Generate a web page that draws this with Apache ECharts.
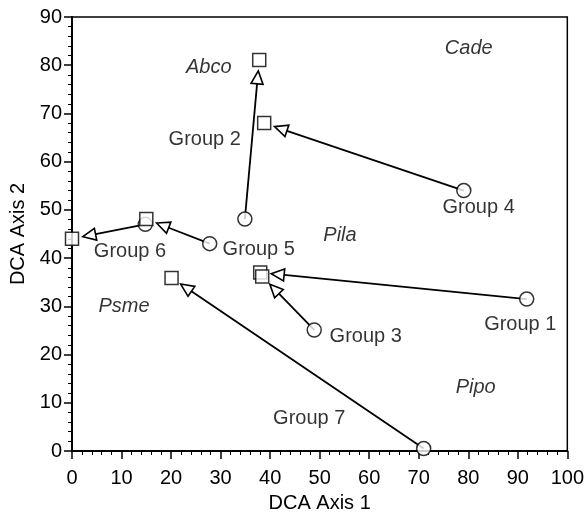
<!DOCTYPE html>
<html>
<head>
<meta charset="utf-8">
<script src="https://cdn.jsdelivr.net/npm/echarts@6/dist/echarts.min.js"></script>
<style>
  html, body { margin: 0; padding: 0; background: #fff; }
  #main { width: 587px; height: 518px; }
</style>
</head>
<body>
<div id="main"></div>
<script>
// group trajectories: circle = start, square = end
const groups = ['Group 1', 'Group 2', 'Group 3', 'Group 4', 'Group 5', 'Group 6', 'Group 7']
const startX = [91.8, 34.9, 48.9, 79.1, 27.8, 14.8, 71.0]
const startY = [31.5, 48.1, 25.1, 54.0, 43.0, 47.0, 0.5]
const endX = [38.0, 37.8, 38.4, 38.8, 15.0, 0.0, 20.1]
const endY = [37.0, 81.1, 36.2, 68.0, 48.1, 44.0, 35.9]

// where each group name sits
const groupLabelX = [90.5, 26.8, 59.3, 82.1, 37.7, 11.7, 47.9]
const groupLabelY = [26.2, 64.6, 23.8, 50.6, 41.8, 41.4, 6.8]

// species scores
const species = ['Abco', 'Cade', 'Pila', 'Psme', 'Pipo']
const speciesX = [27.6, 80.1, 54.1, 10.5, 81.5]
const speciesY = [79.6, 83.5, 44.7, 30.0, 13.2]

const xTicks = [0, 100, 10]
const yTicks = [0, 90, 10]

const font = 'Liberation Sans'
const fontSize = 20
const chart = echarts.init(document.getElementById('main'))

const arrowData = groups.map((g, i) => [startX[i], startY[i], endX[i], endY[i]])

/** arrow from circle toward square, open head */
function renderArrow(params, api) {
  const s = api.coord([api.value(0), api.value(1)])
  const e = api.coord([api.value(2), api.value(3)])
  const dx = e[0] - s[0]
  const dy = e[1] - s[1]
  const len = Math.sqrt(dx * dx + dy * dy)
  const ux = dx / len
  const uy = dy / len
  const gap = 11
  const headLen = 13
  const half = 6
  const tip = [e[0] - ux * gap, e[1] - uy * gap]
  const base = [tip[0] - ux * headLen, tip[1] - uy * headLen]
  const px = -uy
  const py = ux
  return {
    type: 'group',
    children: [
      {
        type: 'line',
        shape: { x1: s[0], y1: s[1], x2: base[0], y2: base[1] },
        style: { stroke: '#000', lineWidth: 1.8 }
      },
      {
        type: 'polygon',
        shape: {
          points: [
            tip,
            [base[0] + px * half, base[1] + py * half],
            [base[0] - px * half, base[1] - py * half]
          ]
        },
        style: { fill: '#fff', stroke: '#000', lineWidth: 1.6 }
      }
    ]
  }
}

const axisCommon = {
  axisLine: { show: true, onZero: false, lineStyle: { color: '#000', width: 2 } },
  axisTick: { show: true, length: 8, lineStyle: { color: '#000', width: 1.5 } },
  minorTick: { show: true, splitNumber: 5, length: 4, lineStyle: { color: '#000', width: 1 } },
  splitLine: { show: false },
  axisLabel: { color: '#000', fontSize: fontSize, fontFamily: font },
  nameTextStyle: { color: '#000', fontSize: fontSize, fontFamily: font }
}

// text-only scatter: invisible dot carrying a label
function textSeries(name, data, italic) {
  return {
    name: name,
    type: 'scatter',
    clip: false,
    z: 5,
    silent: true,
    symbol: 'circle',
    symbolSize: 1,
    itemStyle: { color: 'rgba(0,0,0,0)' },
    label: {
      show: true,
      position: 'inside',
      formatter: p => p.data[2],
      color: '#000',
      fontSize: fontSize,
      fontStyle: italic ? 'italic' : 'normal',
      fontFamily: font
    },
    data: data
  }
}

const option = {
  backgroundColor: '#fff',
  animation: false,
  grid: {
    left: 72,
    right: 18,
    top: 17,
    bottom: 64,
    show: true,
    borderColor: '#000',
    borderWidth: 1.5
  },
  xAxis: Object.assign({}, axisCommon, {
    type: 'value',
    min: xTicks[0],
    max: xTicks[1],
    interval: xTicks[2],
    name: 'DCA Axis 1',
    nameLocation: 'middle',
    nameGap: 42,
    axisLabel: Object.assign({}, axisCommon.axisLabel, { margin: 17 })
  }),
  yAxis: Object.assign({}, axisCommon, {
    type: 'value',
    min: yTicks[0],
    max: yTicks[1],
    interval: yTicks[2],
    name: 'DCA Axis 2',
    nameLocation: 'middle',
    nameGap: 44,
    axisLabel: Object.assign({}, axisCommon.axisLabel, { margin: 10 })
  }),
  series: [
    {
      type: 'custom',
      clip: false,
      z: 1,
      renderItem: renderArrow,
      data: arrowData
    },
    {
      name: 'start',
      type: 'scatter',
      clip: false,
      z: 3,
      symbol: 'circle',
      symbolSize: 14,
      itemStyle: { color: '#fff', borderColor: '#000', borderWidth: 1.5 },
      data: startX.map((x, i) => [x, startY[i]])
    },
    {
      name: 'end',
      type: 'scatter',
      clip: false,
      z: 4,
      symbol: 'rect',
      symbolSize: 13,
      itemStyle: { color: '#fff', borderColor: '#000', borderWidth: 1.5 },
      data: endX.map((x, i) => [x, endY[i]])
    },
    textSeries('groupLabels', groups.map((g, i) => [groupLabelX[i], groupLabelY[i], g]), false),
    textSeries('speciesLabels', species.map((s, i) => [speciesX[i], speciesY[i], s]), true)
  ]
}

chart.setOption(option)
</script>
</body>
</html>
